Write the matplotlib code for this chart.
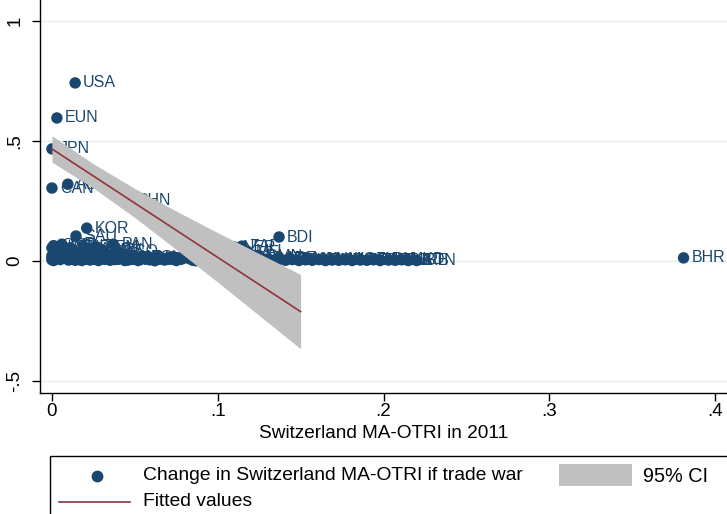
import numpy as np
import matplotlib
matplotlib.use("Agg")
from matplotlib import pyplot as plt
from matplotlib.patches import Rectangle
from matplotlib.lines import Line2D

plt.rcParams['font.family'] = ['Liberation Sans', 'DejaVu Sans']

# country codes, Switzerland MA-OTRI in 2011 (x), change if trade war (y)
codes = ["USA", "EUN", "JPN", "CAN", "AUS", "CHN", "KOR", "SAU", "PAN", "BDI", "ZAF", "BHR", "BTN",
         "NZL", "NOR", "ISL", "ISR", "SGP", "HKG", "MEX", "CHL", "TUR", "IND", "BRA", "ARG",
         "RUS", "IDN", "MYS", "THA", "PHL", "VNM", "COL", "PER", "URY", "PRY", "BOL", "ECU",
         "VEN", "CRI", "GTM", "HND", "NIC", "SLV", "DOM", "JAM", "TTO", "EGY", "MAR", "TUN",
         "DZA", "JOR", "LBN", "OMN", "QAT", "KWT", "ARE", "IRN", "PAK", "BGD", "LKA", "NPL",
         "KHM", "LAO", "MNG", "KAZ", "KGZ", "UKR", "BLR", "GEO", "ARM", "AZE", "MDA", "ALB",
         "MKD", "SRB", "NGA", "GHA", "CIV", "SEN", "CMR", "KEN", "TZA", "UGA", "RWA", "ETH",
         "MDG", "MUS", "MOZ", "ZMB", "ZWE", "MWI", "BWA", "NAM", "AGO", "GAB", "BEN", "BFA",
         "MLI", "NER", "TGO", "GIN", "SDN", "YEM", "LSO", "SWZ", "CPV", "GMB", "MRT"]
otri = [0.014, 0.003, 0.0, 0.0, 0.0096, 0.046, 0.021, 0.0145, 0.037, 0.137, 0.1145, 0.381, 0.220,
        0.019, 0.0, 0.002, 0.006, 0.0, 0.0, 0.004, 0.008, 0.011, 0.013, 0.017, 0.024,
        0.027, 0.031, 0.009, 0.015, 0.021, 0.029, 0.034, 0.038, 0.042, 0.046, 0.050, 0.055,
        0.059, 0.064, 0.068, 0.072, 0.077, 0.081, 0.085, 0.090, 0.094, 0.098, 0.103, 0.107,
        0.111, 0.116, 0.120, 0.124, 0.128, 0.132, 0.136, 0.141, 0.145, 0.149, 0.153, 0.157,
        0.161, 0.165, 0.169, 0.173, 0.177, 0.181, 0.186, 0.190, 0.194, 0.198, 0.203, 0.207,
        0.211, 0.215, 0.0, 0.001, 0.003, 0.005, 0.007, 0.010, 0.012, 0.014, 0.016, 0.018,
        0.020, 0.023, 0.025, 0.028, 0.032, 0.035, 0.039, 0.044, 0.048, 0.052, 0.057, 0.062,
        0.118, 0.110, 0.075, 0.087, 0.100, 0.027, 0.040, 0.005, 0.030, 0.001, 0.022]
change = [0.742, 0.596, 0.467, 0.304, 0.320, 0.254, 0.137, 0.104, 0.070, 0.100, 0.062, 0.013, 0.002,
          0.062, 0.055, 0.035, 0.070, 0.012, 0.005, 0.045, 0.030, 0.055, 0.040, 0.025, 0.050,
          0.030, 0.020, 0.012, 0.010, 0.008, 0.010, 0.015, 0.006, 0.012, 0.004, 0.009, 0.014,
          0.005, 0.011, 0.004, 0.013, 0.007, 0.015, 0.003, 0.010, 0.006, 0.012, 0.004, 0.009,
          0.003, 0.011, 0.005, 0.018, 0.008, 0.004, 0.010, 0.003, 0.006, 0.002, 0.005, 0.003,
          0.006, 0.002, 0.004, 0.003, 0.005, 0.002, 0.004, 0.003, 0.005, 0.002, 0.004, 0.003,
          0.005, 0.002, 0.022, 0.002, 0.015, 0.006, 0.020, 0.004, 0.018, 0.003, 0.014, 0.002,
          0.017, 0.004, 0.013, 0.002, 0.007, 0.003, 0.016, 0.002, 0.007, 0.002, 0.008, 0.001,
          0.040, 0.058, 0.002, 0.001, 0.002, 0.058, 0.040, 0.028, 0.045, 0.064, 0.035]

# fitted values and 95% CI
fit_x = [0.0, 0.025, 0.05, 0.075, 0.1, 0.125, 0.15]
fit_y = [0.467, 0.354, 0.241, 0.128, 0.015, -0.098, -0.211]
ci_lo = [0.412, 0.304, 0.181, 0.048, -0.088, -0.227, -0.366]
ci_hi = [0.522, 0.405, 0.302, 0.208, 0.118, 0.031, -0.056]

xticks = [0, 0.1, 0.2, 0.3, 0.4]
xticklabels = ["0", ".1", ".2", ".3", ".4"]
yticks = [-0.5, 0, 0.5, 1]
yticklabels = ["-.5", "0", ".5", "1"]

NAVY = "#1a476f"
MAROON = "#90353b"
GRAY = "#c0c0c0"
GRID = "#e3edef"

W, H = 727, 514
fig = plt.figure(figsize=(W / 100, H / 100), dpi=100)
ax = fig.add_axes([40 / W, (H - 393) / H, 1 - 40 / W, 393 / H])

ax.scatter(otri, change, s=68, color=NAVY, edgecolors='none', zorder=2)
for c, x, y in zip(codes, otri, change):
    ax.annotate(c, (x, y), xytext=(5.8, 0), textcoords='offset points',
                va='center', ha='left', fontsize=11.5, color=NAVY, zorder=2.5)

ax.fill_between(fit_x, ci_lo, ci_hi, color=GRAY, linewidth=0, zorder=3)
ax.plot(fit_x, fit_y, color=MAROON, lw=1.2, zorder=4)

ax.set_xlim(-0.0072, 0.4072)
ax.set_ylim(-0.55, 1.0875)
ax.set_xticks(xticks)
ax.set_xticklabels(xticklabels)
ax.set_yticks(yticks)
ax.set_yticklabels(yticklabels, rotation=90, va='center')
ax.tick_params(axis='both', labelsize=13.5, length=6, width=1, direction='out')
ax.tick_params(axis='x', pad=1.5)
ax.tick_params(axis='y', pad=6)
for yt in yticks:
    ax.axhline(yt, color=GRID, lw=1, zorder=0)
for s in ['top', 'right']:
    ax.spines[s].set_visible(False)
ax.spines['left'].set_linewidth(1)
ax.spines['bottom'].set_linewidth(1)
ax.set_xlabel("Switzerland MA-OTRI in 2011", fontsize=13.7, labelpad=3)

# legend drawn by hand in pixel coordinates, box runs off the right/bottom edge
lg = fig.add_axes([0, 0, 1, 1])
lg.set_xlim(0, W)
lg.set_ylim(H, 0)
lg.axis('off')
lg.add_patch(Rectangle((50, 456), 700, 80, fill=False, edgecolor='black', lw=1))
lg.add_line(Line2D([97], [476], marker='o', markersize=7.5, color=NAVY, ls='none'))
lg.add_line(Line2D([59, 130], [502, 502], color=MAROON, lw=1.2))
lg.add_patch(Rectangle((559, 464), 73, 22, color=GRAY, lw=0))
lg.text(143, 476, "Change in Switzerland MA-OTRI if trade war", fontsize=13.9, va='center')
lg.text(143, 502, "Fitted values", fontsize=13.9, va='center')
lg.text(643, 476, "95% CI", fontsize=14.3, va='center')

fig.savefig("out.png", dpi=100)
